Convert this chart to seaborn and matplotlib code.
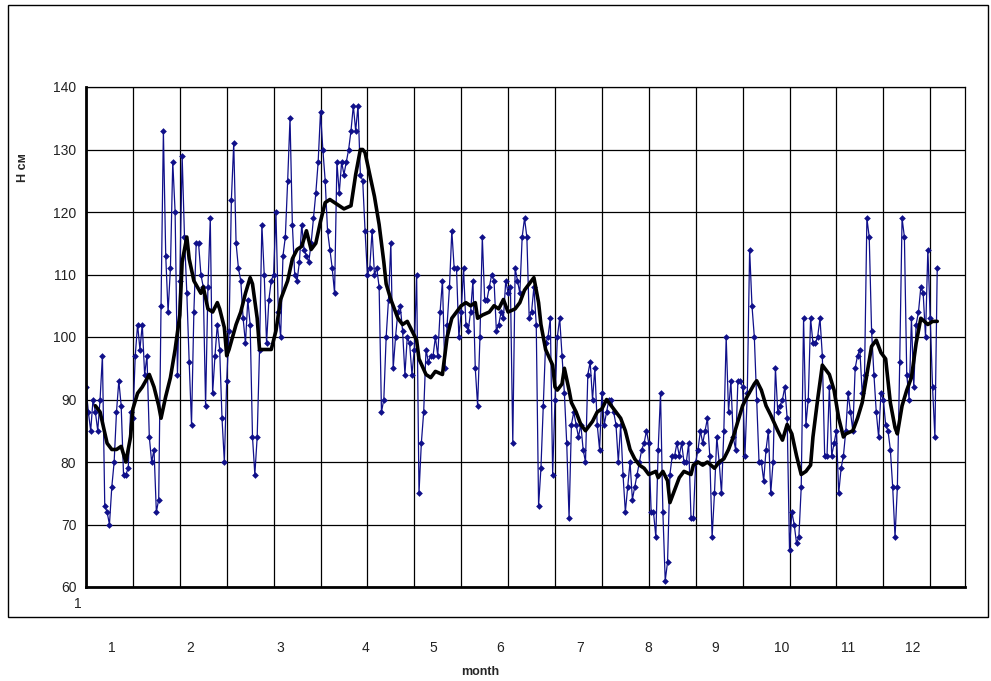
import numpy as np
import pandas as pd
import matplotlib
matplotlib.use("Agg")
import matplotlib.pyplot as plt
from matplotlib.patches import Rectangle
import seaborn as sns

# daily water level, cm
level_cm = [
    92, 88, 85, 90, 88, 85, 90, 97, 73, 72,
    70, 76, 80, 88, 93, 89, 78, 78, 79, 88,
    87, 97, 102, 98, 102, 94, 97, 84, 80, 82,
    72, 74, 105, 133, 113, 104, 111, 128, 120, 94,
    109, 129, 116, 107, 96, 86, 104, 115, 115, 110,
    108, 89, 108, 119, 91, 97, 102, 98, 87, 80,
    93, 101, 122, 131, 115, 111, 109, 103, 99, 106,
    102, 84, 78, 84, 98, 118, 110, 99, 106, 109,
    110, 120, 104, 100, 113, 116, 125, 135, 118, 110,
    109, 112, 118, 114, 113, 112, 115, 119, 123, 128,
    136, 130, 125, 117, 114, 111, 107, 128, 123, 128,
    126, 128, 130, 133, 137, 133,
    137, 126, 125, 117, 110, 111, 117, 110, 111, 108,
    88, 90, 100, 106, 115,
    95, 100, 104, 105, 101, 94, 100, 99, 94, 98,
    110, 75, 83, 88, 98, 96, 97, 97, 100, 97,
    104, 109, 95, 102, 108, 117, 111, 111, 100, 104,
    111, 102, 101, 104, 109, 95, 89, 100, 116, 106,
    106, 108, 110, 109, 101, 102, 104, 103, 109, 107,
    108,
    83, 111, 109, 107, 116, 119, 116, 103, 104, 108,
    102, 73, 79, 89, 99, 100, 103, 78, 90, 100,
    103, 97, 91, 83, 71, 86, 88, 86, 84, 86,
    82, 80, 94, 96, 90, 95, 86, 82, 91, 86,
    88, 90, 90, 88, 86, 80, 86, 78, 72, 76,
    80, 74, 76, 78, 80, 82, 83,
    85, 83, 72, 72, 68, 82, 91, 72, 61, 64,
    78, 81, 81, 83, 81, 83, 80, 80, 83, 71,
    71, 80, 82, 85, 83, 85, 87, 81, 68, 75,
    84, 80, 75, 85, 100, 88, 93, 84, 82, 93,
    93, 92, 81, 91, 114, 105, 100, 90, 80, 80,
    77, 82, 85, 75, 80, 95, 88, 89, 90, 92,
    87, 66, 72, 70, 67, 68, 76, 103, 86, 90,
    103, 99, 99, 100, 103, 97, 81, 81, 92, 81,
    83, 85, 75, 79, 81, 85, 91, 88, 85, 95,
    97, 98, 91, 94, 119, 116, 101, 94, 88, 84,
    91, 90, 86, 85, 82, 76, 68, 76, 96, 119,
    116, 94, 90, 103, 92, 102, 104, 108, 107, 100,
    114, 103, 92, 84, 111,
]
days = list(range(1, len(level_cm) + 1))

# smoothed (moving average) curve
trend_day = [
    5, 7, 10, 12, 14, 16, 18, 20, 21, 23, 25, 28, 30, 32, 33, 35, 37, 39, 41, 42,
    44, 45, 47, 50, 51, 53, 55, 57, 58, 60, 61, 62, 65, 67, 69, 71, 72, 74, 75, 77,
    80, 82, 84, 87, 89, 91, 93, 95, 97, 99, 101, 103, 105, 107, 109, 111, 114, 116, 118, 119,
    120, 122, 124, 126, 128, 129, 131, 134, 136, 138, 140, 142, 143, 146, 148, 150, 153, 155, 157, 159,
    161, 163, 165, 167, 168, 170, 173, 175, 177, 179,
    181, 184, 186, 188, 190, 192, 194, 195, 197, 200, 201, 202, 204, 205, 207, 208, 210, 212, 214, 217,
    219, 221, 223, 224, 226, 229, 231, 233, 235, 237, 239,
    241, 244, 245, 247, 249, 250, 252, 254, 256, 259, 260, 262, 264, 266, 269, 271, 273, 275, 277, 279,
    281, 283, 286, 287, 289, 291, 293, 296, 298, 300, 302, 304, 306, 308, 310, 311, 313, 315, 318, 320,
    322, 324, 325, 328, 330, 332, 334, 336, 338, 340, 342, 344, 346, 347, 349, 351, 353, 355, 357, 360,
    362, 364,
]
trend_cm = [
    89, 88, 83, 82, 82, 82.5, 80, 84, 88.5, 91, 92, 94, 92, 89, 87, 90.5, 93.5, 98, 103.5, 112,
    116, 112.5, 109, 107, 108, 104.5, 104, 105.5, 104.5, 101.5, 97, 98, 102, 104, 107, 109.5, 108.5, 103, 98, 98,
    98, 101, 106, 109, 112.5, 114, 114.5, 117, 114, 115, 118.5, 121.5, 122, 121.5, 121, 120.5, 121, 126, 130, 130,
    129.5, 126, 122.5, 118, 112, 108.5, 106, 103, 102, 102.5, 101, 99.5, 96.5, 94, 93.5, 94.5, 94, 100, 103, 104,
    105, 105.5, 105, 105.5, 103, 103.5, 104, 105, 104.5, 106,
    104, 104.5, 105.5, 107.5, 108.5, 109.5, 105.5, 102, 98, 95.5, 92, 91.5, 92.5, 95, 91.5, 89.5, 88, 86, 85, 86.5,
    88, 88.5, 90, 89.5, 88.5, 87, 85, 82, 80.5, 79.5, 79,
    78, 78.5, 77.5, 78.5, 77, 73.5, 75.5, 77.5, 78.5, 78, 79.5, 80, 79.5, 80, 79, 80, 80.5, 82, 84, 86.5,
    89, 90.5, 92.5, 93, 91.5, 89, 87.5, 85, 83.5, 86, 84.5, 81, 78, 78.5, 79.5, 84, 90, 95.5, 94, 91.5,
    87, 84, 84.5, 85, 87, 89.5, 94, 98.5, 99.5, 97.5, 96.5, 89.5, 85.5, 84.5, 89, 91.5, 93.5, 99, 103, 102,
    102.5, 102.5,
]

month_labels = ["1", "2", "3", "4", "5", "6", "7", "8", "9", "10", "11", "12"]
month_label_px = [112, 190, 280, 366, 433, 500, 580, 648, 715, 782, 848, 913]

df = pd.DataFrame({"day": days, "H": level_cm})
trend = pd.DataFrame({"day": trend_day, "H": trend_cm})

sns.set_style("white")
plt.rcParams["font.family"] = ["Liberation Sans", "DejaVu Sans"]

W, H = 991, 681
fig = plt.figure(figsize=(W / 100, H / 100), dpi=100)
ax = fig.add_axes([86 / W, 1 - 587 / H, (965 - 86) / W, (587 - 87) / H])

sns.lineplot(data=df, x="day", y="H", ax=ax, color="#10108a", linewidth=0.9,
             marker="D", markersize=3.4, markeredgewidth=0, estimator=None, sort=False)
sns.lineplot(data=trend, x="day", y="H", ax=ax, color="black", linewidth=2.6,
             estimator=None, sort=False)

ax.set_xlim(1, 1 + 20 * (965 - 86) / 46.9)
ax.set_ylim(60, 140)
ax.set_yticks(range(60, 141, 10))
xt = list(range(1, 370, 20))
ax.set_xticks(xt)
ax.set_xticklabels([""] * len(xt))
ax.grid(True, color="black", linewidth=0.9)
ax.set_axisbelow(True)
ax.tick_params(axis="both", direction="out", length=5, width=1, color="black",
               labelsize=10, labelcolor="#222222", pad=2)
for s in ["left", "bottom"]:
    ax.spines[s].set_linewidth(2)
    ax.spines[s].set_color("black")
for s in ["top", "right"]:
    ax.spines[s].set_linewidth(0.9)
    ax.spines[s].set_color("black")
ax.set_xlabel("")
ax.set_ylabel("")

# category label of the first tick, sits a little left of the tick in the original
fig.text(78 / W, 1 - 604 / H, "1", fontsize=10, ha="center", va="center", color="#222222")
fig.text(23 / W, 1 - 168 / H, "H см", rotation=90, fontsize=9, fontweight="bold",
         ha="center", va="center")
for lab, px in zip(month_labels, month_label_px):
    fig.text(px / W, 1 - 648 / H, lab, fontsize=10, ha="center", va="center", color="#222222")
fig.text(480 / W, 1 - 672 / H, "month", fontsize=9, fontweight="bold", ha="center", va="center")

fig.patches.append(Rectangle((8 / W, 1 - 617 / H), (988 - 8) / W, (617 - 5) / H,
                             transform=fig.transFigure, fill=False, linewidth=1,
                             edgecolor="black"))

fig.savefig("out.png", dpi=100)
